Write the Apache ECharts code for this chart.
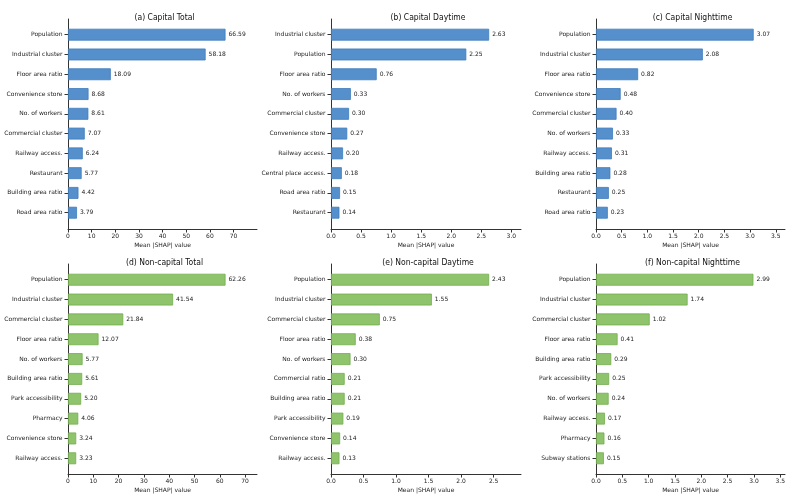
<!DOCTYPE html>
<html>
<head>
<meta charset="utf-8">
<script src="https://cdn.jsdelivr.net/npm/echarts@6/dist/echarts.min.js"></script>
<style>html,body{margin:0;padding:0;background:#fff}#c{width:800px;height:497px}</style>
</head>
<body>
<div id="c"></div>
<script>
// ---- data ----
const capTotalCats = ['Population','Industrial cluster','Floor area ratio','Convenience store','No. of workers','Commercial cluster','Railway access.','Restaurant','Building area ratio','Road area ratio'];
const capTotalVals = [66.59,58.18,18.09,8.68,8.61,7.07,6.24,5.77,4.42,3.79];

const capDayCats = ['Industrial cluster','Population','Floor area ratio','No. of workers','Commercial cluster','Convenience store','Railway access.','Central place access.','Road area ratio','Restaurant'];
const capDayVals = [2.63,2.25,0.76,0.33,0.30,0.27,0.20,0.18,0.15,0.14];

const capNightCats = ['Population','Industrial cluster','Floor area ratio','Convenience store','Commercial cluster','No. of workers','Railway access.','Building area ratio','Restaurant','Road area ratio'];
const capNightVals = [3.07,2.08,0.82,0.48,0.40,0.33,0.31,0.28,0.25,0.23];

const ncTotalCats = ['Population','Industrial cluster','Commercial cluster','Floor area ratio','No. of workers','Building area ratio','Park accessibility','Pharmacy','Convenience store','Railway access.'];
const ncTotalVals = [62.26,41.54,21.84,12.07,5.77,5.61,5.20,4.06,3.24,3.23];

const ncDayCats = ['Population','Industrial cluster','Commercial cluster','Floor area ratio','No. of workers','Commercial ratio','Building area ratio','Park accessibility','Convenience store','Railway access.'];
const ncDayVals = [2.43,1.55,0.75,0.38,0.30,0.21,0.21,0.19,0.14,0.13];

const ncNightCats = ['Population','Industrial cluster','Commercial cluster','Floor area ratio','Building area ratio','Park accessibility','No. of workers','Railway access.','Pharmacy','Subway stations'];
const ncNightVals = [2.99,1.74,1.02,0.41,0.29,0.25,0.24,0.17,0.16,0.15];

const titles = ['(a) Capital Total','(b) Capital Daytime','(c) Capital Nighttime','(d) Non-capital Total','(e) Non-capital Daytime','(f) Non-capital Nighttime'];

const ticksTotal = [0,10,20,30,40,50,60,70];
const ticksCapDay = [0,0.5,1.0,1.5,2.0,2.5,3.0];
const ticksNight = [0,0.5,1.0,1.5,2.0,2.5,3.0,3.5];
const ticksNcDay = [0,0.5,1.0,1.5,2.0,2.5];

const axisMax = [79.9,3.16,3.68,74.7,2.92,3.59];
const xName = 'Mean |SHAP| value';

// ---- layout ----
const cols = [{l:68,w:189},{l:331,w:190},{l:596,w:189}];
const rows = [
  {axTop:19, axBot:229, barTop:24.8, barBot:222.6, titleY:8},
  {axTop:264, axBot:474, barTop:269.8, barBot:468.2, titleY:253}
];
const styles = {
  blue:{fill:'#5590cc', edge:'#3f7cbd'},
  green:{fill:'#8fc46c', edge:'#74ad4e'}
};

const panels = [
  {cats:capTotalCats, vals:capTotalVals, ticks:ticksTotal, dec:0, st:'blue'},
  {cats:capDayCats, vals:capDayVals, ticks:ticksCapDay, dec:1, st:'blue'},
  {cats:capNightCats, vals:capNightVals, ticks:ticksNight, dec:1, st:'blue'},
  {cats:ncTotalCats, vals:ncTotalVals, ticks:ticksTotal, dec:0, st:'green'},
  {cats:ncDayCats, vals:ncDayVals, ticks:ticksNcDay, dec:1, st:'green'},
  {cats:ncNightCats, vals:ncNightVals, ticks:ticksNight, dec:1, st:'green'}
];

const grid = [], xAxis = [], yAxis = [], series = [], title = [];
const axisColor = '#333';
const font = 'DejaVu Sans';
const fs = 6;

panels.forEach((p, i) => {
  const c = cols[i % 3], r = rows[Math.floor(i / 3)];
  const st = styles[p.st];
  grid.push({left:c.l, width:c.w, top:r.barTop, height:r.barBot - r.barTop, containLabel:false});
  grid.push({left:c.l, width:c.w, top:r.axTop, height:r.axBot - r.axTop, containLabel:false});
  const gA = 2*i, gB = 2*i + 1;
  xAxis.push({gridIndex:gA, type:'value', min:0, max:axisMax[i], show:false});
  xAxis.push({
    gridIndex:gB, type:'value', min:0, max:axisMax[i],
    axisLine:{show:true, lineStyle:{color:axisColor, width:1}},
    axisTick:{show:true, length:3.5, customValues:p.ticks, lineStyle:{color:axisColor}},
    axisLabel:{customValues:p.ticks, fontSize:fs, color:'#222', fontFamily:font, margin:4,
      formatter:v => v.toFixed(p.dec)},
    splitLine:{show:false},
    name:xName, nameLocation:'middle', nameGap:13,
    nameTextStyle:{fontSize:fs, color:'#222', fontFamily:font}
  });
  yAxis.push({
    gridIndex:gA, type:'category', data:p.cats, inverse:true,
    axisLine:{show:false},
    axisTick:{show:true, alignWithLabel:true, length:3.5, lineStyle:{color:axisColor}},
    axisLabel:{fontSize:fs, color:'#222', fontFamily:font, margin:5.5}
  });
  yAxis.push({
    gridIndex:gB, type:'value', min:0, max:1,
    axisLine:{show:true, lineStyle:{color:axisColor, width:1}},
    axisTick:{show:false}, axisLabel:{show:false}, splitLine:{show:false}
  });
  series.push({
    type:'bar', xAxisIndex:gA, yAxisIndex:gA, data:p.vals, barWidth:'60%',
    itemStyle:{color:st.fill, borderColor:st.edge, borderWidth:0.8},
    label:{show:true, position:'right', distance:3, fontSize:fs, color:'#222', fontFamily:font,
      formatter:d => d.value.toFixed(2)},
    silent:true, animation:false
  });
  title.push({
    text:titles[i], left:c.l + c.w/2 - 3, top:r.titleY, textAlign:'center',
    textStyle:{fontSize:8.5, fontWeight:'normal', color:'#111', fontFamily:'DejaVu Sans Condensed, Roboto, sans-serif'}
  });
});

const chart = echarts.init(document.getElementById('c'), null, {renderer:'canvas'});
chart.setOption({backgroundColor:'#fff', animation:false, title, grid, xAxis, yAxis, series});
</script>
</body>
</html>
